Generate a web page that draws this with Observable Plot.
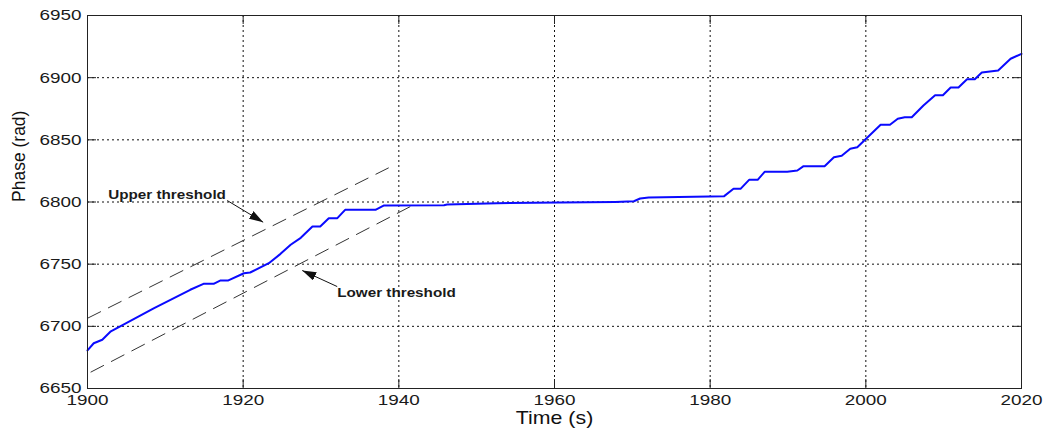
<!DOCTYPE html>
<html>
<head>
<meta charset="utf-8">
<script src="https://cdn.jsdelivr.net/npm/d3@7"></script>
<script src="https://cdn.jsdelivr.net/npm/@observablehq/plot@0.6"></script>
<style>
  html, body { margin: 0; padding: 0; background: white; }
  #chart { width: 1045px; height: 430px; }
</style>
</head>
<body>
<div id="chart"></div>
<script>
// ---- data ----
const time = [1900, 1900.8, 1901.9, 1903.0, 1904.2, 1908.5, 1913.2, 1914.9, 1916.2, 1917.1, 1918.1,
  1920.1, 1920.9, 1923.3, 1924.8, 1926.1, 1927.4, 1928.9, 1929.9, 1931.0, 1932.1, 1933.1, 1937.0,
  1938.1, 1945.8, 1946.2, 1952.6, 1960.8, 1967.8, 1970.2, 1971.0, 1972.1, 1977.9, 1981.8,
  1983.0, 1983.9, 1985.0, 1986.1, 1987.0, 1989.9, 1991.2, 1992.0, 1994.7, 1995.9, 1996.9,
  1998.0, 1998.9, 1999.9, 2001.9, 2003.1, 2004.1, 2005.0, 2005.9, 2007.4, 2008.9, 2009.9,
  2010.9, 2011.9, 2013.0, 2014.0, 2014.9, 2017.0, 2018.6, 2020];
const phase = [6680.6, 6686.4, 6689.2, 6696.0, 6699.9, 6714.5, 6729.4, 6734.2, 6734.2, 6736.9, 6736.9,
  6742.7, 6743.3, 6750.8, 6758.3, 6765.6, 6771.2, 6780.3, 6780.3, 6787.0, 6787.0, 6793.7, 6793.7,
  6797.2, 6797.4, 6798.0, 6799.0, 6799.6, 6800.1, 6800.6, 6802.8, 6803.6, 6804.2, 6804.7,
  6810.6, 6810.6, 6817.8, 6817.8, 6824.3, 6824.3, 6825.3, 6828.8, 6828.8, 6836.0, 6837.2,
  6842.8, 6844.1, 6850.0, 6862.1, 6862.1, 6866.9, 6868.2, 6868.2, 6877.6, 6885.9, 6885.9,
  6892.1, 6892.1, 6898.8, 6898.8, 6904.2, 6905.8, 6915.2, 6919.2];

// threshold lines (start time, start phase, end time, end phase)
const thresholdNames = ["Upper threshold", "Lower threshold"];
const thrT1 = [1900.0, 1900.4];
const thrP1 = [6706.5, 6663.1];
const thrT2 = [1938.7, 1941.5];
const thrP2 = [6827.5, 6796.4];

// annotation labels and arrows
const labelT = [1902.66, 1932.08];
const labelP = [6806.0, 6726.6];
const arrowT1 = [1917.95, 1932.08];
const arrowP1 = [6801.2, 6732.0];
const arrowT2 = [1922.57, 1927.59];
const arrowP2 = [6783.75, 6744.9];

const xTicks = [1900, 1920, 1940, 1960, 1980, 2000, 2020];
const yTicks = [6650, 6700, 6750, 6800, 6850, 6900, 6950];

// ---- tables ----
const series = time.map((t, i) => ({t, p: phase[i]}));
const thresholds = thresholdNames.map((name, i) => ({name, t1: thrT1[i], p1: thrP1[i], t2: thrT2[i], p2: thrP2[i]}));
const labels = thresholdNames.map((name, i) => ({name, t: labelT[i], p: labelP[i]}));
const arrows = thresholdNames.map((name, i) => ({name, t1: arrowT1[i], p1: arrowP1[i], t2: arrowT2[i], p2: arrowP2[i]}));

function filledArrow(color) {
  const m = d3.create("svg:marker")
    .attr("viewBox", "-14 -4.5 14 9")
    .attr("markerWidth", 14)
    .attr("markerHeight", 9)
    .attr("markerUnits", "userSpaceOnUse")
    .attr("refX", 0).attr("refY", 0)
    .attr("orient", "auto");
  m.append("path").attr("d", "M-14,-4.5L0,0L-14,4.5Z").attr("fill", color).attr("stroke", "none");
  return m.node();
}

function build(marker) {
  const W = 1045, H = 430, mL = 87, mR = 24, mT = 15, mB = 42;
  const fw = W - mL - mR, fh = H - mT - mB;
  return Plot.plot({
    width: W, height: H,
    marginLeft: mL, marginRight: mR, marginTop: mT, marginBottom: mB,
    style: {fontFamily: "'Liberation Sans', Arial, sans-serif", fontSize: "15.5px", background: "white", color: "#1a1a1a", overflow: "visible"},
    x: {domain: [1900, 2020]},
    y: {domain: [6650, 6950]},
    marks: [
      Plot.gridX(xTicks, {stroke: "#111", strokeOpacity: 1, strokeWidth: 1, strokeDasharray: "2,3"}),
      Plot.gridY(yTicks, {stroke: "#111", strokeOpacity: 1, strokeWidth: 1, strokeDasharray: "2,3"}),
      Plot.link(thresholds, {x1: "t1", y1: "p1", x2: "t2", y2: "p2", stroke: "#333", strokeWidth: 1, strokeDasharray: "15,8"}),
      Plot.line(series, {x: "t", y: "p", stroke: "#0a0aff", strokeWidth: 2, curve: "linear"}),
      Plot.link(arrows, {x1: "t1", y1: "p1", x2: "t2", y2: "p2", stroke: "#111", strokeWidth: 1, markerEnd: marker}),
      Plot.text(labels, {x: "t", y: "p", text: "name", textAnchor: "start", lineAnchor: "middle", fontSize: 12.5, fontWeight: "bold", fill: "#1a1a1a"}),
      Plot.frame({stroke: "#222", strokeWidth: 1}),
      Plot.tickX(xTicks, {x: d => d, stroke: "#222", insetTop: fh - 9}),
      Plot.tickX(xTicks, {x: d => d, stroke: "#222", insetBottom: fh - 9}),
      Plot.tickY(yTicks, {y: d => d, stroke: "#222", insetRight: fw - 9}),
      Plot.tickY(yTicks, {y: d => d, stroke: "#222", insetLeft: fw - 9}),
      Plot.axisY(yTicks, {tickSize: 0, tickPadding: 6, label: null, tickFormat: d => String(d), fill: "#1a1a1a"}),
      Plot.axisX(xTicks, {tickSize: 0, tickPadding: 5, label: null, tickFormat: d => String(d), fill: "#1a1a1a"}),
      Plot.text(["Time (s)"], {frameAnchor: "bottom", dy: 30, lineAnchor: "middle", fontSize: 17.5, fill: "#111"}),
      Plot.text(["Phase (rad)"], {frameAnchor: "left", dx: -68, rotate: -90, lineAnchor: "middle", fontSize: 17.5, fill: "#111"})
    ]
  });
}

let chart;
try { chart = build(filledArrow); } catch (e) { chart = build("arrow"); }
document.getElementById("chart").appendChild(chart);

// the reference's text is horizontally stretched; stretch each non-rotated label around its anchor
const STRETCH = 1.22;
chart.querySelectorAll("text").forEach(t => {
  let tr = t.getAttribute("transform") || "";
  if (/rotate/.test(tr)) return;
  if (!tr) {
    const x = +(t.getAttribute("x") || 0), y = +(t.getAttribute("y") || 0);
    t.removeAttribute("x"); t.removeAttribute("y");
    tr = `translate(${x},${y})`;
  }
  t.setAttribute("transform", tr + ` scale(${STRETCH},1)`);
});
</script>
</body>
</html>
